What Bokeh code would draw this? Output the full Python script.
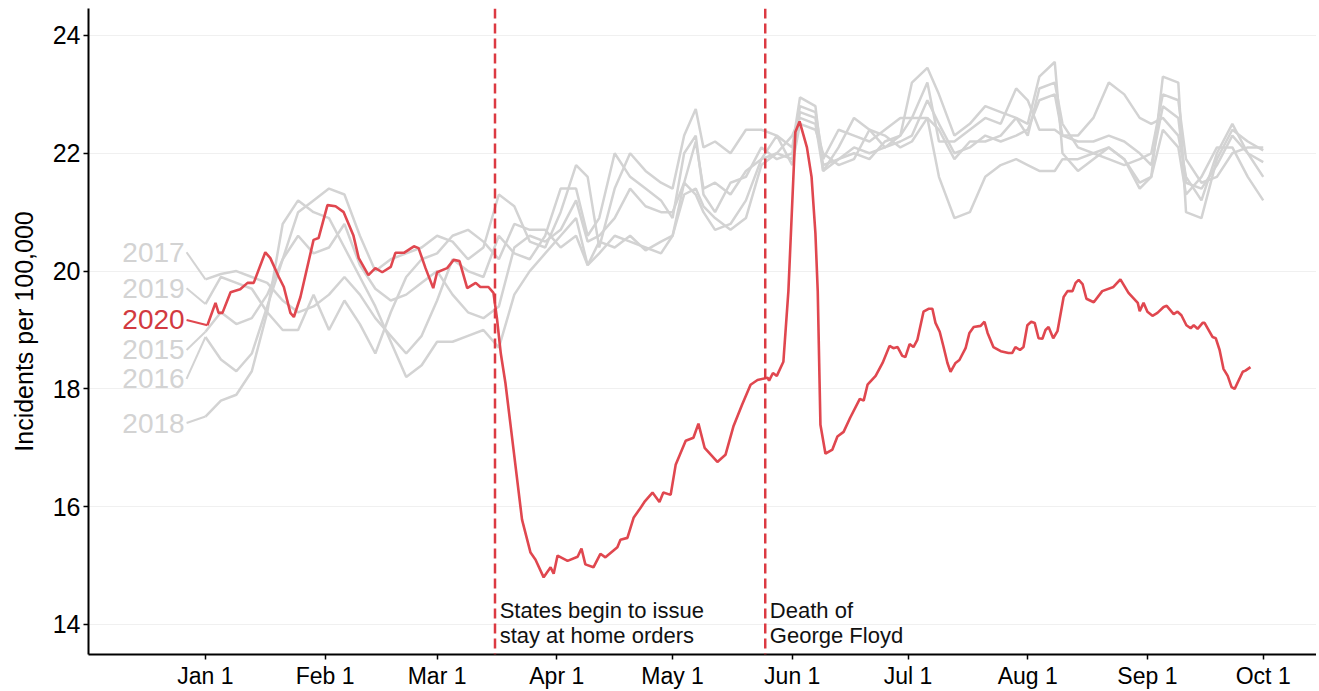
from bokeh.plotting import figure
from bokeh.models import Span, FixedTicker
from bokeh.core.properties import value
from bokeh.embed import file_html
from bokeh.resources import INLINE

# ---------------- data ----------------
# x = days since Jan 1
month_ticks = [0, 31, 60, 91, 121, 152, 182, 213, 244, 274]
month_labels = ["Jan 1", "Feb 1", "Mar 1", "Apr 1", "May 1", "Jun 1", "Jul 1", "Aug 1", "Sep 1", "Oct 1"]
y_ticks = [14, 16, 18, 20, 22, 24]

days_2020 = [0.5, 2.6, 3.4, 4.4, 6.5, 9, 10.9, 12.5, 15.5, 16.8, 19, 20.3, 22, 22.9, 24.6, 28, 29.3, 31.6, 33.7, 35.8,
             38.3, 39.7, 42.2, 44, 45.8, 48, 49.2, 51.4, 54, 55.2, 57, 59, 60, 62.6, 64.3, 65.8, 67.8, 70, 71.2, 73.3,
             74.6, 75.5, 76.5, 77.7, 79.8, 82, 84.2, 85.5, 87.6, 89.4, 90.2, 91.2, 93.8, 96.4, 97.4, 98.4, 100.5, 102.3,
             103.6, 106.7, 107.5, 109.3, 110.9, 112.4, 113.7, 115.8, 117.6, 118.6, 120.5, 121.8, 124.4, 126.4, 127.7,
             129.3, 132.6, 134.7, 136.8, 139, 141.2, 143, 145.6, 146, 147, 148, 149.7, 151, 152.8, 153.9, 155.8, 157,
             158, 158.6, 159.3, 160.6, 162.4, 163.7, 165.3, 167, 169.5, 170.5, 171.5, 173.6, 175.4, 177.2, 178.2, 179.3,
             180.5, 181.3, 182.4, 183.4, 184.4, 186, 187.3, 188.3, 189.1, 190.2, 191.2, 192.2, 193, 194.3, 195.3, 196.9,
             197.9, 199, 200.8, 201.8, 202.6, 204.1, 206, 208, 209, 209.8, 211, 211.9, 212.9, 213.9, 214.8, 215.8, 216.8,
             217.6, 218.4, 219.6, 220.7, 222.3, 223.3, 224.6, 225.4, 226.2, 227.2, 228.2, 230.1, 232.3, 235.2, 237,
             239.1, 241.5, 242, 243, 244, 245.3, 246.6, 248.2, 249, 250.8, 251.8, 252.8, 254.1, 255.2, 256, 257, 258.3,
             258.8, 260.9, 261.7, 262.7, 263.7, 264.8, 265.8, 266.6, 268.7, 269.4, 270.7]
vals_2020 = [19.08, 19.46, 19.29, 19.29, 19.64, 19.69, 19.8, 19.8, 20.32, 20.22, 19.9, 19.73, 19.29, 19.22, 19.56, 20.53,
             20.56, 21.12, 21.1, 21.0, 20.61, 20.22, 19.93, 20.05, 19.98, 20.07, 20.31, 20.31, 20.42, 20.39, 20.05, 19.71,
             19.98, 20.05, 20.19, 20.17, 19.71, 19.8, 19.73, 19.73, 19.63, 19.2, 18.6, 18.1, 16.97, 15.78, 15.22, 15.1,
             14.8, 14.97, 14.86, 15.17, 15.08, 15.15, 15.29, 15.02, 14.97, 15.2, 15.14, 15.31, 15.44, 15.47, 15.81, 15.95,
             16.08, 16.24, 16.08, 16.24, 16.2, 16.71, 17.12, 17.17, 17.41, 17.0, 16.76, 16.88, 17.37, 17.73, 18.07, 18.15,
             18.19, 18.14, 18.27, 18.22, 18.46, 19.66, 22.36, 22.54, 22.1, 21.6, 20.64, 19.66, 17.39, 16.9, 16.97, 17.19,
             17.27, 17.51, 17.83, 17.8, 18.07, 18.22, 18.44, 18.73, 18.69, 18.71, 18.56, 18.54, 18.76, 18.71, 18.83,
             19.31, 19.36, 19.36, 19.12, 18.97, 18.71, 18.44, 18.29, 18.44, 18.49, 18.69, 18.95, 19.05, 19.07, 19.14,
             18.95, 18.71, 18.64, 18.61, 18.61, 18.71, 18.66, 18.71, 19.08, 19.14, 19.12, 18.86, 18.85, 19.0, 19.05,
             18.86, 18.98, 19.56, 19.66, 19.66, 19.8, 19.85, 19.78, 19.53, 19.47, 19.66, 19.73, 19.86, 19.63, 19.46,
             19.32, 19.46, 19.31, 19.24, 19.29, 19.39, 19.41, 19.27, 19.31, 19.25, 19.08, 19.03, 19.08, 19.02, 19.12,
             19.12, 18.88, 18.86, 18.66, 18.34, 18.22, 18.03, 18.0, 18.29, 18.31, 18.37]

days_hist = [0, 4, 8, 12, 16, 20, 24, 28, 32, 36, 40, 44, 48, 52, 56, 60, 64, 68, 72, 76, 80, 84, 88, 92, 96, 99, 102,
             106, 110, 114, 118, 121, 124, 127, 129, 132, 136, 140, 144, 148, 152, 154, 158, 160, 164, 168, 172, 176,
             180, 183, 187, 190, 194, 198, 202, 206, 210, 213, 216, 220, 222, 226, 230, 234, 238, 242, 245, 248, 252,
             254, 258, 262, 266, 270, 274]
vals_2015 = [18.97, 19.3, 19.1, 19.2, 19.6, 20.2, 20.6, 20.3, 20.4, 20.8, 20.1, 19.7, 19.5, 19.6, 19.8, 20.0, 19.6, 19.3,
             19.2, 19.4, 20.4, 20.6, 20.5, 20.7, 21.2, 20.5, 20.6, 20.9, 21.4, 21.1, 21.0, 21.0, 21.5, 22.2, 21.4, 21.5,
             21.3, 21.7, 21.9, 22.0, 21.9, 22.7, 22.6, 21.8, 21.9, 22.1, 22.0, 22.1, 22.2, 22.3, 22.9, 22.5, 22.0, 22.1,
             22.3, 22.2, 22.3, 22.4, 22.9, 23.0, 22.3, 22.2, 22.2, 22.3, 22.2, 22.0, 21.8, 22.8, 22.6, 21.5, 21.4, 21.8,
             22.3, 22.0, 21.85]
vals_2016 = [18.88, 18.5, 18.3, 18.6, 19.4, 20.2, 21.0, 21.2, 21.4, 21.3, 20.6, 20.0, 20.2, 20.3, 20.4, 20.6, 20.5, 20.2,
             20.4, 21.3, 21.1, 20.5, 20.4, 21.0, 21.8, 21.6, 20.4, 21.4, 22.0, 21.7, 21.5, 21.4, 22.3, 22.75, 22.1, 22.2,
             22.0, 22.4, 22.4, 22.3, 22.1, 22.95, 22.8, 21.7, 22.1, 22.6, 22.4, 22.1, 22.3, 23.2, 23.45, 23.0, 22.3, 22.5,
             22.8, 22.7, 22.6, 22.5, 23.3, 23.55, 22.0, 21.7, 21.9, 22.1, 21.9, 21.5, 21.6, 23.3, 23.2, 21.0, 20.9, 21.9,
             22.4, 22.2, 22.05]
vals_2017 = [19.86, 19.95, 20.0, 19.9, 19.8, 19.5, 19.3, 19.4, 19.6, 19.9, 19.6, 19.2, 18.9, 18.6, 18.9, 19.5, 20.2, 20.0,
             19.9, 20.6, 20.3, 20.2, 20.6, 21.4, 21.4, 20.6, 20.9, 22.0, 21.6, 21.4, 21.2, 20.9, 22.0, 22.3, 21.3, 21.0,
             21.5, 21.6, 22.1, 21.9, 22.0, 22.8, 22.7, 21.9, 22.4, 22.3, 22.2, 22.4, 22.6, 22.6, 23.2, 22.2, 22.2, 22.4,
             22.6, 22.5, 23.1, 22.9, 22.4, 22.4, 22.3, 22.3, 22.6, 23.2, 23.0, 22.6, 22.5, 22.6, 22.3, 21.6, 21.2, 22.0,
             22.5, 22.0, 21.6]
vals_2018 = [17.53, 17.8, 17.9, 18.3, 19.3, 20.8, 21.2, 21.0, 20.9, 20.4, 19.9, 19.4, 18.8, 18.2, 18.4, 18.8, 18.8, 18.9,
             19.0, 18.7, 19.6, 20.0, 20.3, 20.6, 20.9, 20.1, 20.3, 20.6, 20.5, 20.4, 20.3, 20.6, 21.3, 21.4, 21.1, 20.9,
             20.7, 20.9, 21.8, 22.0, 22.3, 22.6, 22.5, 21.7, 21.9, 22.0, 21.9, 22.2, 22.3, 22.6, 22.6, 21.6, 20.9, 21.0,
             21.6, 21.8, 21.9, 21.8, 21.7, 21.7, 21.9, 21.9, 22.0, 22.1, 21.9, 21.4, 21.6, 22.4, 22.1, 21.3, 21.6, 22.1,
             22.1, 21.6, 21.2]
vals_2019 = [19.44, 19.9, 19.8, 19.7, 19.3, 19.0, 19.0, 19.6, 19.0, 19.5, 19.1, 18.6, 19.3, 19.9, 20.2, 20.3, 20.6, 20.7,
             20.5, 20.2, 20.8, 20.7, 20.7, 20.4, 20.6, 20.1, 20.5, 20.4, 20.6, 20.35, 20.5, 20.6, 21.5, 21.3, 21.0, 20.7,
             20.8, 21.2, 21.9, 22.3, 21.8, 22.5, 22.4, 22.0, 21.8, 21.9, 22.4, 22.3, 22.1, 22.2, 22.6, 22.4, 21.9, 22.2,
             22.2, 22.3, 22.6, 22.3, 23.1, 23.2, 22.5, 22.1, 22.0, 21.9, 21.8, 21.9, 22.0, 23.0, 22.9, 21.9, 21.5, 21.6,
             22.0, 22.1, 22.1]

hist_years = ["2017", "2019", "2015", "2016", "2018"]
hist_series = {"2015": vals_2015, "2016": vals_2016, "2017": vals_2017, "2018": vals_2018, "2019": vals_2019}
label_years = ["2017", "2019", "2020", "2015", "2016", "2018"]
label_y = [20.32, 19.71, 19.17, 18.66, 18.17, 17.42]

events_day = [75, 145]
events_text = [["States begin to issue", "stay at home orders"], ["Death of", "George Floyd"]]

GRAY = "#d3d3d3"
RED = "#e0474f"
RED_LABEL = "#d23a40"
FONT = "Liberation Sans"

# ---------------- figure ----------------
p = figure(width=1316, height=691, x_range=(-30.3, 287.8), y_range=(13.49, 24.458),
           output_backend="svg", toolbar_location=None,
           min_border_left=88, min_border_right=0, min_border_top=8, min_border_bottom=36)
p.outline_line_color = None
p.background_fill_color = "white"
p.border_fill_color = "white"

for yr in ["2015", "2016", "2017", "2018", "2019"]:
    p.line(days_hist, hist_series[yr], line_color=GRAY, line_width=2.5)

p.line(days_2020, vals_2020, line_color=RED, line_width=2.6)

for d in events_day:
    p.add_layout(Span(location=d, dimension="height", line_color="#dc3a42", line_width=2.5, line_dash="10 5"))

# event annotations
ev_x, ev_y, ev_t = [], [], []
for d, lines in zip(events_day, events_text):
    for i, t in enumerate(lines):
        ev_x.append(d + 1.2)
        ev_y.append(14.24 - i * 0.43)
        ev_t.append(t)
p.text(x=ev_x, y=ev_y, text=ev_t, text_font=value(FONT), text_font_size="22px",
       text_color="#111111", text_baseline="middle", text_align="left")

# year labels + connectors
first_vals = {"2020": vals_2020[0]}
first_days = {"2020": days_2020[0]}
for yr in hist_years:
    first_vals[yr] = hist_series[yr][0]
    first_days[yr] = days_hist[0]
lab_colors = [RED_LABEL if y == "2020" else GRAY for y in label_years]
p.segment(x0=[-4.9] * len(label_years), y0=label_y,
          x1=[first_days[y] for y in label_years], y1=[first_vals[y] for y in label_years],
          line_color=[RED if y == "2020" else GRAY for y in label_years], line_width=2)
p.text(x=[-5.4] * len(label_years), y=label_y, text=label_years, text_color=lab_colors,
       text_font=value(FONT), text_font_size="28px", text_baseline="middle", text_align="right")

# axes
p.xaxis.ticker = FixedTicker(ticks=month_ticks)
p.xaxis.major_label_overrides = {t: l for t, l in zip(month_ticks, month_labels)}
p.yaxis.ticker = FixedTicker(ticks=y_ticks)
for ax in (p.xaxis, p.yaxis):
    ax.axis_line_width = 2
    ax.axis_line_color = "black"
    ax.major_tick_line_color = "black"
    ax.major_tick_line_width = 1.5
    ax.major_tick_out = 5
    ax.major_tick_in = 0
    ax.minor_tick_line_color = None
    ax.major_label_text_font = FONT
    ax.major_label_text_color = "black"
    ax.major_label_standoff = 3
p.xaxis.major_label_text_font_size = "23px"
p.yaxis.major_label_text_font_size = "25px"
p.yaxis.axis_label = "Incidents per 100,000"
p.yaxis.axis_label_text_font = FONT
p.yaxis.axis_label_text_font_size = "25px"
p.yaxis.axis_label_text_font_style = "normal"
p.yaxis.axis_label_text_color = "black"
p.yaxis.axis_label_standoff = 12
p.xgrid.grid_line_color = None
p.ygrid.grid_line_color = "#f0f0f0"
p.ygrid.grid_line_width = 1.2

open("out.html", "w").write(file_html(p, INLINE))
